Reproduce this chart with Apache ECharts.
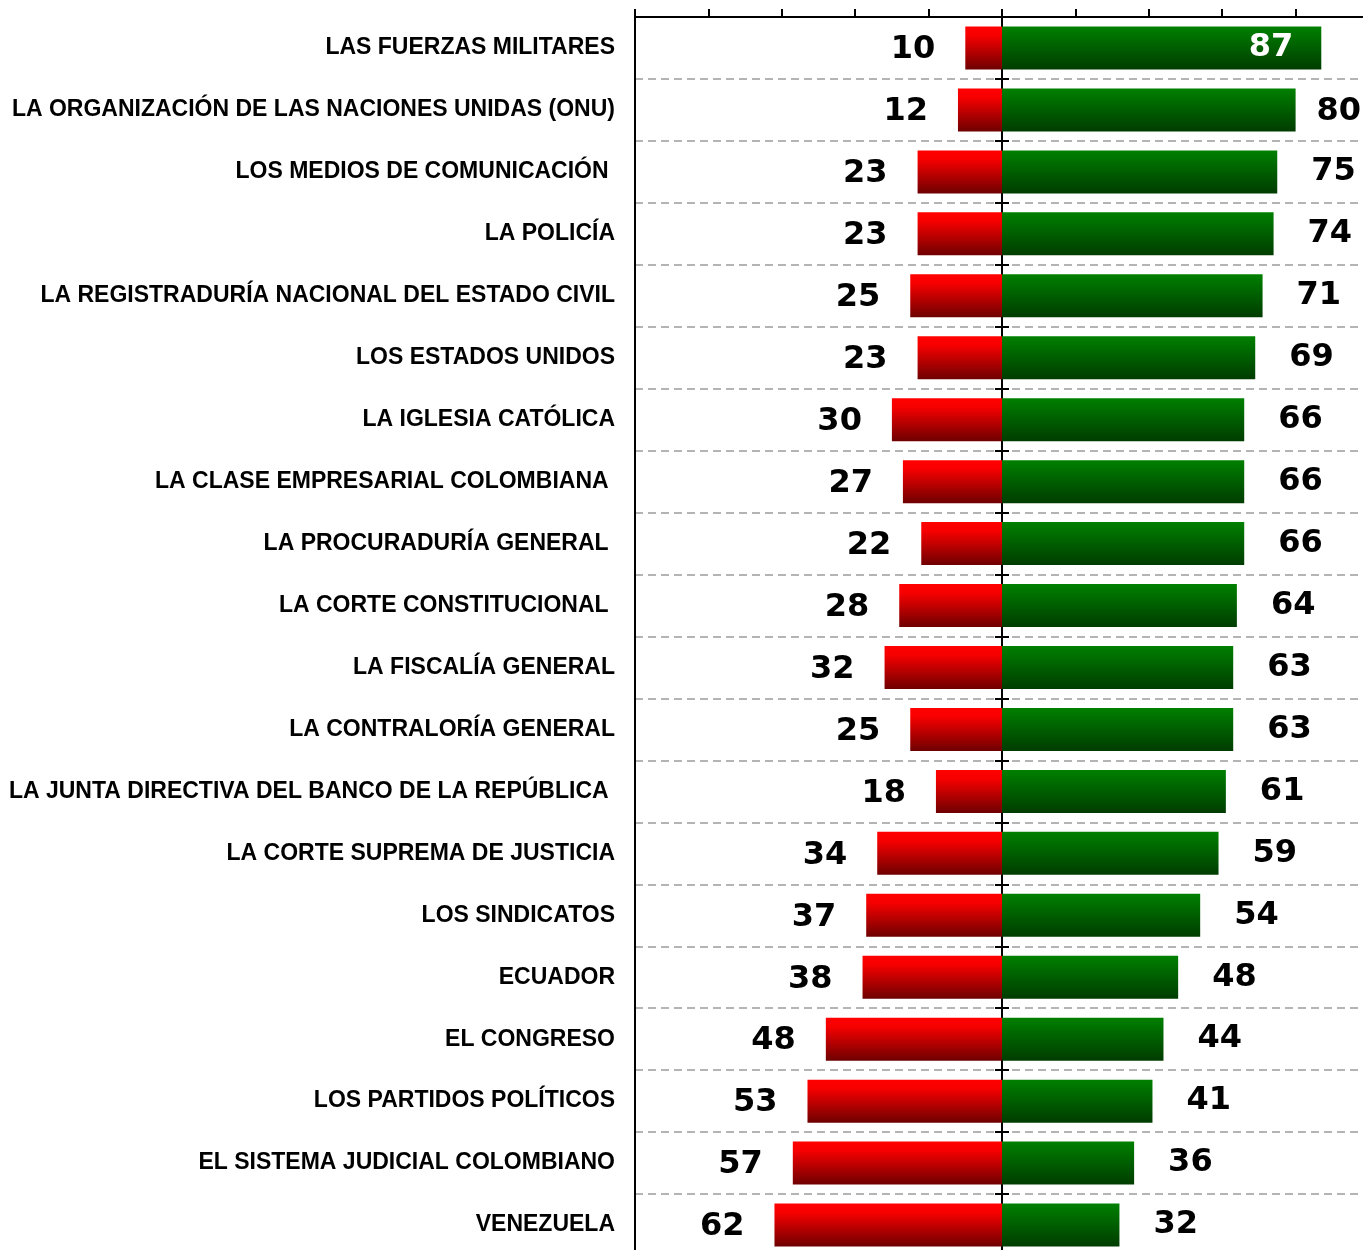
<!DOCTYPE html>
<html>
<head>
<meta charset="utf-8">
<script src="https://cdn.jsdelivr.net/npm/echarts@6/dist/echarts.min.js"></script>
<style>
  html, body { margin: 0; padding: 0; background: #fff; overflow: hidden; }
  /* the chart runs a few pixels past the window on the right and bottom, like the original crop */
  #chart { width: 1369px; height: 1256px; }
</style>
</head>
<body>
<div id="chart"></div>
<script>
const categories = [
  'LAS FUERZAS MILITARES',
  'LA ORGANIZACIÓN DE LAS NACIONES UNIDAS (ONU)',
  'LOS MEDIOS DE COMUNICACIÓN ',
  'LA POLICÍA',
  'LA REGISTRADURÍA NACIONAL DEL ESTADO CIVIL',
  'LOS ESTADOS UNIDOS',
  'LA IGLESIA CATÓLICA',
  'LA CLASE EMPRESARIAL COLOMBIANA ',
  'LA PROCURADURÍA GENERAL ',
  'LA CORTE CONSTITUCIONAL ',
  'LA FISCALÍA GENERAL',
  'LA CONTRALORÍA GENERAL',
  'LA JUNTA DIRECTIVA DEL BANCO DE LA REPÚBLICA ',
  'LA CORTE SUPREMA DE JUSTICIA',
  'LOS SINDICATOS',
  'ECUADOR',
  'EL CONGRESO',
  'LOS PARTIDOS POLÍTICOS',
  'EL SISTEMA JUDICIAL COLOMBIANO',
  'VENEZUELA'
]
// desfavorable (rojo) / favorable (verde)
const negativeValues = [10, 12, 23, 23, 25, 23, 30, 27, 22, 28, 32, 25, 18, 34, 37, 38, 48, 53, 57, 62]
const positiveValues = [87, 80, 75, 74, 71, 69, 66, 66, 66, 64, 63, 63, 61, 59, 54, 48, 44, 41, 36, 32]

const VISIBLE_W = 1363

const valueFont = {
  fontFamily: 'DejaVu Sans',
  fontWeight: 'bold',
  fontSize: 32,
  color: '#000',
  offset: [0, 2]
}

const redGradient = new echarts.graphic.LinearGradient(0, 0, 0, 1, [
  { offset: 0, color: '#ff0000' },
  { offset: 0.2, color: '#f80000' },
  { offset: 1, color: '#6e0000' }
])
const greenGradient = new echarts.graphic.LinearGradient(0, 0, 0, 1, [
  { offset: 0, color: '#008000' },
  { offset: 1, color: '#003c00' }
])

// half-row categories, only used to draw the little ticks on the zero line
const halfRows = categories.flatMap(c => [c + '_a', c + '_b'])

function tickAxis(inside) {
  return {
    type: 'category',
    inverse: true,
    position: 'left',
    data: halfRows,
    axisLine: { show: true, onZero: true, onZeroAxisIndex: 0, lineStyle: { color: '#000', width: 2 } },
    axisTick: { show: true, inside: inside, length: 7, interval: 0, lineStyle: { color: '#000', width: 2 } },
    axisLabel: { show: false },
    splitLine: { show: false }
  }
}

const chart = echarts.init(document.getElementById('chart'))
const option = {
  animation: false,
  grid: {
    left: 635,
    top: 17,
    right: 0,
    bottom: 0,
    containLabel: false
  },
  xAxis: {
    type: 'value',
    position: 'top',
    min: -100,
    max: 100,
    interval: 20,
    axisLine: { show: true, onZero: false, lineStyle: { color: '#000', width: 2 } },
    axisTick: { show: true, length: 8, lineStyle: { color: '#000', width: 2 } },
    axisLabel: { show: false },
    splitLine: { show: false }
  },
  yAxis: [
    {
      type: 'category',
      inverse: true,
      position: 'left',
      data: categories,
      axisLine: { show: true, onZero: false, lineStyle: { color: '#000', width: 2 } },
      axisTick: { show: false },
      axisLabel: {
        interval: 0,
        margin: 20,
        padding: [6, 0, 0, 0],
        color: '#000',
        fontFamily: 'Liberation Sans',
        fontWeight: 'bold',
        fontSize: 23
      },
      splitLine: {
        show: true,
        interval: 0,
        lineStyle: { color: '#b4b4b4', type: [8, 5], width: 2 }
      }
    },
    tickAxis(true),
    tickAxis(false)
  ],
  series: [
    {
      name: 'Desfavorable',
      type: 'bar',
      stack: 'total',
      barWidth: 43,
      data: negativeValues.map(v => -v),
      itemStyle: { color: redGradient },
      label: {
        show: true,
        position: 'left',
        distance: 30,
        formatter: p => Math.abs(p.value),
        ...valueFont
      },
      z: 1
    },
    {
      name: 'Favorable',
      type: 'bar',
      stack: 'total',
      barWidth: 43,
      data: positiveValues.map(v => v > 85
        ? { value: v, label: { position: 'insideRight', distance: 28, color: '#fff' } }
        : v),
      itemStyle: { color: greenGradient },
      label: {
        show: true,
        position: 'right',
        distance: 34,
        ...valueFont
      },
      // pull back labels that would run past the visible right edge
      labelLayout: function (params) {
        const r = params.labelRect
        if (r.x + r.width > VISIBLE_W - 2) {
          return {
            x: VISIBLE_W - 2 - r.width,
            y: r.y + r.height / 2,
            align: 'left',
            verticalAlign: 'middle'
          }
        }
      },
      z: 1
    }
  ]
}
chart.setOption(option)
</script>
</body>
</html>
